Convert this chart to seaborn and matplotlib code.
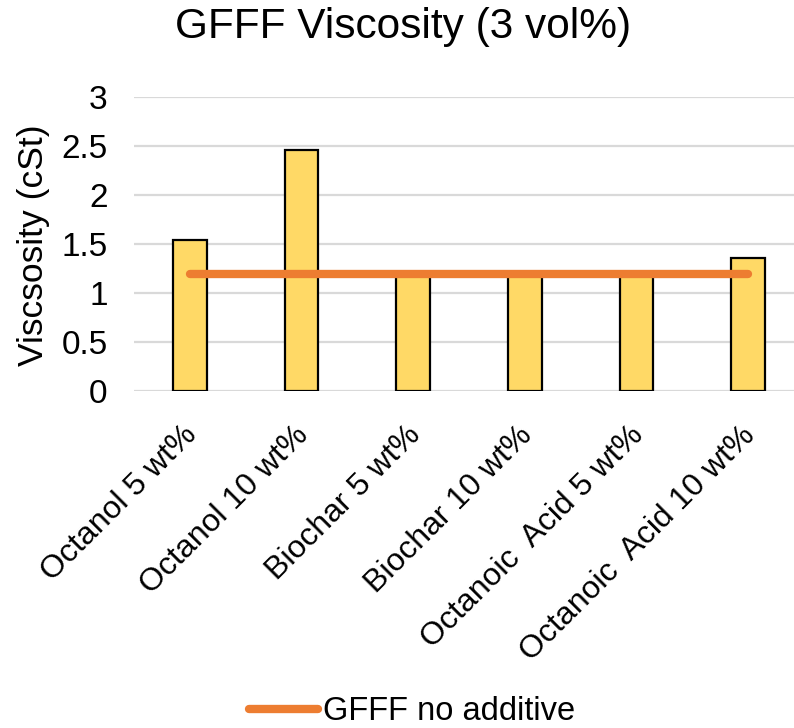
import matplotlib
matplotlib.use("Agg")
import matplotlib.pyplot as plt
import matplotlib.transforms as mtransforms
import seaborn as sns
import pandas as pd

categories = ["Octanol 5 wt%", "Octanol 10 wt%", "Biochar 5 wt%", "Biochar 10 wt%",
              "Octanoic  Acid 5 wt%", "Octanoic  Acid 10 wt%"]
viscosity = [1.54, 2.46, 1.18, 1.18, 1.18, 1.36]
baseline = [1.19, 1.19, 1.19, 1.19, 1.19, 1.19]
baseline_label = "GFFF no additive"
yticks = [0, 0.5, 1, 1.5, 2, 2.5, 3]
ytick_labels = ["0", "0.5", "1", "1.5", "2", "2.5", "3"]

sns.set_theme(style="white")
plt.rcParams['font.family'] = ['Liberation Sans', 'DejaVu Sans']
plt.rcParams['text.color'] = 'black'
plt.rcParams['axes.labelcolor'] = 'black'
plt.rcParams['xtick.color'] = 'black'
plt.rcParams['ytick.color'] = 'black'

df = pd.DataFrame({"cat": categories, "v": viscosity, "base": baseline})

fig = plt.figure(figsize=(7.94, 7.28), dpi=100)
ax = fig.add_axes([0.1688, 0.4629, 0.8438, 0.4038])

sns.barplot(data=df, x="cat", y="v", ax=ax, color="#FFD966", saturation=1,
            width=0.30, edgecolor="black", linewidth=1.6, zorder=2)
sns.lineplot(data=df, x="cat", y="base", ax=ax, color="#ED7D31", linewidth=6,
             sort=False, zorder=3, solid_capstyle="round", legend=False)

ax.set_xlim(-0.5, 5.5)
ax.set_ylim(0, 3)
ax.set_yticks(yticks)
ax.set_yticklabels(ytick_labels, fontsize=24)
ax.yaxis.grid(True, color="#D9D9D9", linewidth=1.6, zorder=0)
ax.set_axisbelow(True)
for s in ax.spines.values():
    s.set_visible(False)
ax.tick_params(axis="y", length=0, pad=19, colors="black")
ax.tick_params(axis="x", length=0, pad=21, colors="black")
ax.set_xticks(range(len(categories)))
ax.set_xticklabels(categories, rotation=45, ha="right", rotation_mode="anchor", fontsize=23)
offset = mtransforms.ScaledTranslation(-8 / 100, 0, fig.dpi_scale_trans)
for lbl in ax.get_xticklabels():
    lbl.set_transform(lbl.get_transform() + offset)
ax.set_xlabel("")
ax.set_ylabel("Viscsosity (cSt)", fontsize=25.5, color="black")
ax.yaxis.set_label_coords(0.063, 0.663, transform=fig.transFigure)

fig.suptitle("GFFF Viscosity (3 vol%)", fontsize=30.5, x=0.508, y=0.99, color="black")

handles = [plt.Line2D([0], [0], color="#ED7D31", lw=6, solid_capstyle="round")]
fig.legend(handles, [baseline_label], loc="center", bbox_to_anchor=(0.519, 0.022),
           frameon=False, fontsize=23.5, handlelength=2.1, handletextpad=0.15,
           borderpad=0, labelcolor="black")

fig.savefig("out.png", dpi=100)
